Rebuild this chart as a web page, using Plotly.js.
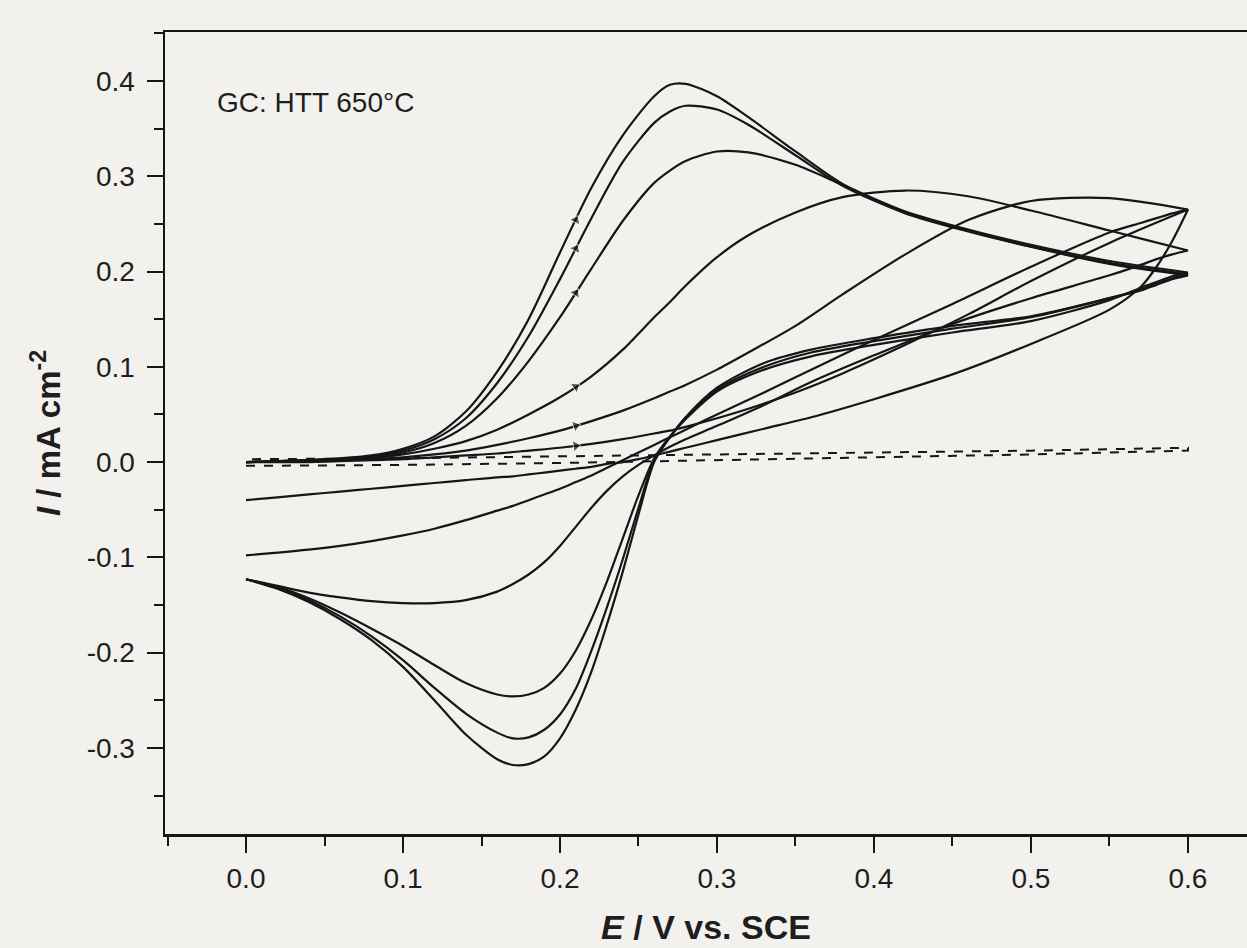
<!DOCTYPE html>
<html>
<head>
<meta charset="utf-8">
<script src="https://cdn.plot.ly/plotly-3.0.1.min.js"></script>
<style>
html,body{margin:0;padding:0;background:#f3f1ee;overflow:hidden;}
#chart{width:1247px;height:948px;}
</style>
</head>
<body>
<div id="chart"></div>
<script>
// ---- Data (E in V vs. SCE, I in mA cm^-2) ----
// forward (anodic) sweep potentials
const E_fwd = [0, 0.04, 0.08, 0.10, 0.12, 0.14, 0.16, 0.18, 0.20, 0.22, 0.24, 0.26, 0.27, 0.28, 0.30, 0.32, 0.35, 0.38, 0.42, 0.46, 0.50, 0.55, 0.60];
// reverse (cathodic) sweep potentials
const E_rev = [0.60, 0.59, 0.58, 0.57, 0.55, 0.50, 0.45, 0.40, 0.36, 0.33, 0.30, 0.28, 0.27, 0.26, 0.25, 0.24, 0.23, 0.22, 0.21, 0.20, 0.19, 0.18, 0.17, 0.16, 0.14, 0.12, 0.10, 0.08, 0.06, 0.04, 0.02, 0.0];

const A_fwd = [0.0, 0.002, 0.007, 0.014, 0.027, 0.053, 0.095, 0.150, 0.220, 0.288, 0.343, 0.384, 0.396, 0.397, 0.384, 0.362, 0.326, 0.292, 0.262, 0.243, 0.226, 0.208, 0.196];
const B_fwd = [0.0, 0.002, 0.006, 0.012, 0.024, 0.046, 0.083, 0.132, 0.192, 0.256, 0.315, 0.356, 0.368, 0.374, 0.370, 0.354, 0.322, 0.290, 0.261, 0.242, 0.226, 0.209, 0.197];
const C_fwd = [0.0, 0.002, 0.005, 0.010, 0.020, 0.038, 0.067, 0.106, 0.152, 0.203, 0.253, 0.293, 0.306, 0.316, 0.326, 0.325, 0.312, 0.291, 0.263, 0.244, 0.228, 0.211, 0.199];
const D_fwd = [0.0, 0.001, 0.004, 0.008, 0.014, 0.022, 0.034, 0.050, 0.068, 0.090, 0.118, 0.152, 0.168, 0.185, 0.215, 0.238, 0.262, 0.278, 0.285, 0.279, 0.264, 0.243, 0.222];
const E5_fwd = [0.0, 0.001, 0.003, 0.005, 0.008, 0.012, 0.018, 0.025, 0.033, 0.043, 0.054, 0.067, 0.074, 0.081, 0.097, 0.115, 0.143, 0.176, 0.218, 0.254, 0.274, 0.277, 0.265];
const F_fwd = [0.0, 0.0, 0.002, 0.003, 0.005, 0.007, 0.009, 0.012, 0.015, 0.019, 0.024, 0.030, 0.033, 0.037, 0.046, 0.056, 0.073, 0.093, 0.123, 0.155, 0.190, 0.230, 0.265];

const A_rev = [0.196, 0.192, 0.186, 0.180, 0.172, 0.153, 0.143, 0.130, 0.118, 0.104, 0.078, 0.047, 0.026, 0.0, -0.055, -0.115, -0.170, -0.220, -0.260, -0.290, -0.309, -0.317, -0.318, -0.312, -0.286, -0.250, -0.215, -0.187, -0.165, -0.147, -0.133, -0.123];
const B_rev = [0.197, 0.193, 0.187, 0.181, 0.172, 0.152, 0.140, 0.127, 0.115, 0.100, 0.076, 0.046, 0.026, 0.002, -0.048, -0.102, -0.152, -0.198, -0.238, -0.265, -0.281, -0.289, -0.290, -0.284, -0.264, -0.237, -0.208, -0.183, -0.162, -0.145, -0.132, -0.123];
const C_rev = [0.199, 0.195, 0.189, 0.183, 0.170, 0.148, 0.136, 0.123, 0.111, 0.097, 0.074, 0.045, 0.027, 0.004, -0.035, -0.080, -0.125, -0.165, -0.198, -0.222, -0.237, -0.244, -0.246, -0.244, -0.232, -0.213, -0.193, -0.175, -0.158, -0.143, -0.131, -0.123];
const D_rev = [0.222, 0.218, 0.213, 0.207, 0.196, 0.172, 0.145, 0.112, 0.084, 0.060, 0.038, 0.024, 0.016, 0.007, -0.003, -0.015, -0.030, -0.048, -0.068, -0.088, -0.105, -0.118, -0.128, -0.136, -0.145, -0.148, -0.148, -0.146, -0.142, -0.137, -0.130, -0.123];
const E5_rev = [0.265, 0.261, 0.256, 0.251, 0.241, 0.205, 0.166, 0.128, 0.097, 0.073, 0.050, 0.034, 0.026, 0.018, 0.010, 0.002, -0.006, -0.014, -0.021, -0.028, -0.034, -0.040, -0.046, -0.051, -0.061, -0.070, -0.077, -0.083, -0.088, -0.092, -0.095, -0.098];
const F_rev = [0.265, 0.232, 0.205, 0.184, 0.160, 0.124, 0.092, 0.066, 0.047, 0.035, 0.023, 0.015, 0.011, 0.007, 0.003, 0.0, -0.002, -0.005, -0.007, -0.009, -0.011, -0.013, -0.015, -0.016, -0.019, -0.022, -0.025, -0.028, -0.031, -0.034, -0.037, -0.040];

// background (dashed) scan
const BG_E_fwd = [0, 0.1, 0.2, 0.3, 0.4, 0.5, 0.6];
const BG_I_fwd = [-0.004, -0.003, -0.001, 0.002, 0.005, 0.008, 0.012];
const BG_E_rev = [0.6, 0.5, 0.4, 0.3, 0.2, 0.1, 0.0];
const BG_I_rev = [0.015, 0.012, 0.010, 0.008, 0.006, 0.004, 0.003];

const xTickVals = [0.0, 0.1, 0.2, 0.3, 0.4, 0.5, 0.6];
const xTickText = ["0.0", "0.1", "0.2", "0.3", "0.4", "0.5", "0.6"];
const yTickVals = [-0.3, -0.2, -0.1, 0.0, 0.1, 0.2, 0.3, 0.4];
const yTickText = ["-0.3", "-0.2", "-0.1", "0.0", "0.1", "0.2", "0.3", "0.4"];

const labelText = "GC: HTT 650°C";

// ---- build traces ----
const curves = [
  [A_fwd, A_rev], [B_fwd, B_rev], [C_fwd, C_rev],
  [D_fwd, D_rev], [E5_fwd, E5_rev], [F_fwd, F_rev]
];
const ink = "#161616";
const traces = curves.map(c => ({
  x: E_fwd.concat(E_rev),
  y: c[0].concat(c[1]),
  mode: "lines",
  line: {color: ink, width: 2.2, shape: "spline", smoothing: 0.8},
  hoverinfo: "skip",
  showlegend: false
}));
traces.push({
  x: BG_E_fwd.concat(BG_E_rev),
  y: BG_I_fwd.concat(BG_I_rev),
  mode: "lines",
  line: {color: ink, width: 2, dash: "dash"},
  hoverinfo: "skip",
  showlegend: false
});

// direction arrows on the anodic branches (positions taken from the data arrays)
const iFrom = E_fwd.indexOf(0.20), iTo = E_fwd.indexOf(0.22);
curves.forEach(c => {
  traces.push({
    x: [E_fwd[iFrom], (E_fwd[iFrom] + E_fwd[iTo]) / 2],
    y: [c[0][iFrom], (c[0][iFrom] + c[0][iTo]) / 2],
    mode: "markers",
    marker: {symbol: "triangle-up", size: [0, 10], color: ink, angleref: "previous", angle: 0},
    hoverinfo: "skip",
    showlegend: false
  });
});

const fontFam = "Liberation Sans, Arial, sans-serif";
const tickFont = {family: fontFam, size: 28, color: "#1e1e1e"};

const layout = {
  width: 1247, height: 948,
  margin: {l: 165, r: 0, t: 32, b: 114},
  paper_bgcolor: "#f3f1ee",
  plot_bgcolor: "#f3f1ee",
  showlegend: false,
  xaxis: {
    range: [-0.0516, 0.6376],
    tickvals: xTickVals, ticktext: xTickText,
    ticks: "outside", ticklen: 16, tickwidth: 2, tickcolor: ink,
    minor: {dtick: 0.05, tick0: 0, ticks: "outside", ticklen: 9, tickwidth: 2, tickcolor: ink},
    showline: true, linecolor: ink, linewidth: 2.5, mirror: true,
    showgrid: false, zeroline: false,
    tickfont: tickFont,
    ticklabelstandoff: 2,
    title: {text: "<b><i>E</i> / V vs. SCE</b>", font: {family: fontFam, size: 34, color: "#1e1e1e"}, standoff: 22}
  },
  yaxis: {
    range: [-0.3904, 0.4514],
    tickvals: yTickVals, ticktext: yTickText,
    ticks: "outside", ticklen: 16, tickwidth: 2, tickcolor: ink,
    minor: {dtick: 0.05, tick0: 0, ticks: "outside", ticklen: 9, tickwidth: 2, tickcolor: ink},
    showline: true, linecolor: ink, linewidth: 2.5, mirror: false,
    showgrid: false, zeroline: false,
    tickfont: tickFont,
    ticklabelstandoff: 6,
    title: {text: "<b><i>I</i> / mA cm<sup>-2</sup></b>", font: {family: fontFam, size: 33, color: "#1e1e1e"}, standoff: 16}
  },
  annotations: [{
    text: labelText, xref: "paper", yref: "paper",
    x: 0.046, y: 0.912, xanchor: "left", yanchor: "middle",
    showarrow: false,
    font: {family: fontFam, size: 28, color: "#1e1e1e"}
  }]
};

Plotly.newPlot("chart", traces, layout, {staticPlot: true, displayModeBar: false});
</script>
</body>
</html>
